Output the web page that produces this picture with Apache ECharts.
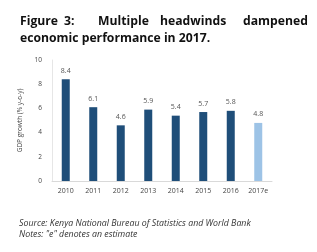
<!DOCTYPE html>
<html>
<head>
<meta charset="utf-8">
<script src="https://cdn.jsdelivr.net/npm/echarts@6/dist/echarts.min.js"></script>
<style>
  html, body { margin: 0; padding: 0; background: #fff; }
  #chart { width: 317px; height: 252px; }
</style>
</head>
<body>
<div id="chart"></div>
<script>
// data
var years = ['2010', '2011', '2012', '2013', '2014', '2015', '2016', '2017e'];
var growth = [8.4, 6.1, 4.6, 5.9, 5.4, 5.7, 5.8, 4.8];
var estimate = [false, false, false, false, false, false, false, true];

var chart = echarts.init(document.getElementById('chart'));

var titleFont = 'bold 12.2px "Open Sans", sans-serif';
var noteFont = 'italic 8.8px "Open Sans", sans-serif';

var option = {
  animation: false,
  grid: { left: 52, right: 45, top: 60, bottom: 71 },
  graphic: [
    { type: 'text', left: 20, top: 16, style: { text: 'Figure', font: titleFont, fill: '#111' } },
    { type: 'text', left: 64, top: 16, style: { text: '3:', font: titleFont, fill: '#111' } },
    { type: 'text', left: 98, top: 16, style: { text: 'Multiple', font: titleFont, fill: '#111' } },
    { type: 'text', left: 160, top: 16, style: { text: 'headwinds', font: titleFont, fill: '#111' } },
    { type: 'text', left: 243, top: 16, style: { text: 'dampened', font: titleFont, fill: '#111' } },
    { type: 'text', left: 20, top: 33, style: { text: 'economic performance in 2017.', font: titleFont, fill: '#111' } },
    { type: 'text', left: 19, top: 219, style: { text: 'Source: Kenya National Bureau of Statistics and World Bank', font: noteFont, fill: '#333' } },
    { type: 'text', left: 19, top: 230, style: { text: 'Notes: "e" denotes an estimate', font: noteFont, fill: '#333' } }
  ],
  xAxis: {
    type: 'category',
    data: years,
    axisLine: { lineStyle: { color: '#d9d9d9' } },
    axisTick: { show: false },
    axisLabel: { color: '#444', fontSize: 7, margin: 6, fontFamily: 'Open Sans' }
  },
  yAxis: {
    type: 'value',
    min: 0,
    max: 10,
    interval: 2,
    name: 'GDP growth (% y-o-y)',
    nameLocation: 'middle',
    nameGap: 17,
    nameTextStyle: { color: '#444', fontSize: 6.5, fontFamily: 'Open Sans' },
    axisLine: { show: true, lineStyle: { color: '#e6e6e6' } },
    axisTick: { show: false },
    splitLine: { show: false },
    axisLabel: { color: '#444', fontSize: 6.5, margin: 10, fontFamily: 'Open Sans' }
  },
  series: [{
    type: 'bar',
    barWidth: 8,
    data: growth.map(function (v, i) {
      return { value: v, itemStyle: { color: estimate[i] ? '#9dc3e6' : '#1f4e79' } };
    }),
    label: {
      show: true,
      position: 'top',
      distance: 5,
      color: '#555',
      fontSize: 7,
      fontFamily: 'Open Sans',
      formatter: function (p) { return p.value.toFixed(1); }
    }
  }]
};

chart.setOption(option);
</script>
</body>
</html>
